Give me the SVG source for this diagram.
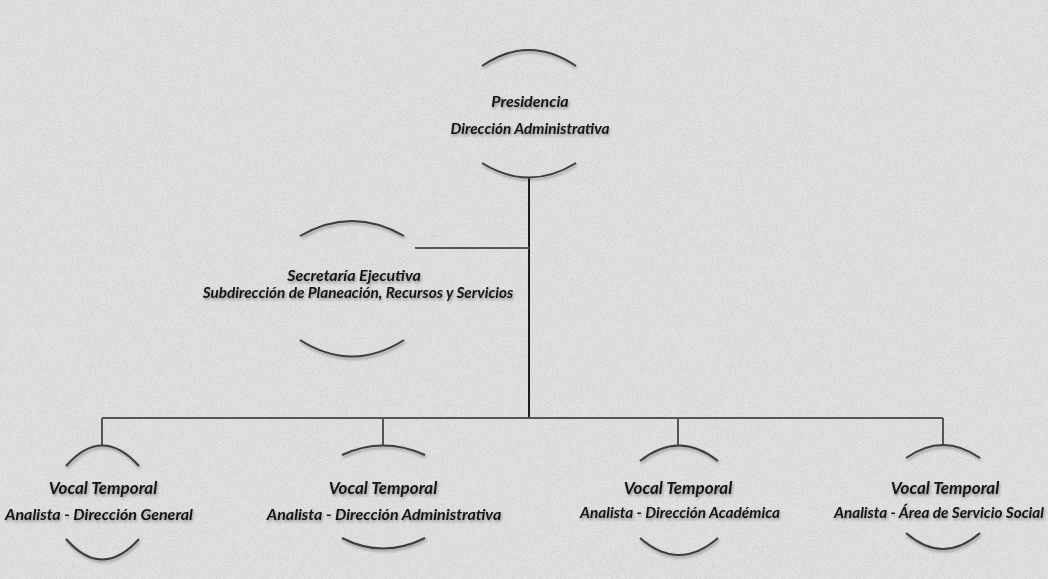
<svg xmlns="http://www.w3.org/2000/svg" width="1048" height="579" viewBox="0 0 1048 579">
<defs>
<filter id="noise" x="0" y="0" width="100%" height="100%">
<feTurbulence type="fractalNoise" baseFrequency="1.2" numOctaves="2" seed="3" result="n"/>
<feColorMatrix in="n" type="matrix" values="0 0 0 0 0.55  0 0 0 0 0.55  0 0 0 0 0.55  1.2 0 0 0 -0.45"/>
</filter>
<filter id="sh" x="-10%" y="-50%" width="120%" height="200%">
<feGaussianBlur in="SourceAlpha" stdDeviation="1.6" result="b"/>
<feOffset in="b" dx="1" dy="2" result="o"/>
<feComponentTransfer in="o" result="o2"><feFuncA type="linear" slope="0.35"/></feComponentTransfer>
<feMerge><feMergeNode in="o2"/><feMergeNode in="SourceGraphic"/></feMerge>
</filter>
</defs>
<style>
.arc{fill:none;stroke:#3c3c3c;stroke-width:2}
.con{fill:none;stroke:#555555;stroke-width:2}
.main{fill:none;stroke:#1e1e1e;stroke-width:2}
text{font-family:"Lato","Open Sans",sans-serif;font-style:italic;font-weight:700;font-size:16px;fill:#141414;text-anchor:middle}
.s{font-size:15.3px}
.v{font-size:17px}
.e{text-anchor:end}
</style>
<rect width="1048" height="579" fill="#e2e2e2"/>
<rect width="1048" height="579" filter="url(#noise)"/>
<g id="connectors">
<path class="main" d="M529 177 V418"/>
<path class="con" d="M415 248 H529"/>
<path class="con" d="M102 418 H943"/>
<path class="con" d="M102 418 V445 M383 418 V445 M678 418 V445 M943 418 V445"/>
</g>
<g id="presidencia" filter="url(#sh)">
<path class="arc" d="M482 66 Q529 34 576 66"/>
<path class="arc" d="M482 163 Q529 192 576 163"/>
<text x="530" y="107">Presidencia</text>
<text class="s" x="530" y="134">Dirección Administrativa</text>
</g>
<g id="secretaria" filter="url(#sh)">
<path class="arc" d="M300 236 Q352 206 404 236"/>
<path class="arc" d="M300 340 Q352 373 404 340"/>
<text x="354" y="281">Secretaría Ejecutiva</text>
<text class="s" x="358" y="298">Subdirección de Planeación, Recursos y Servicios</text>
</g>
<g id="vocal1" filter="url(#sh)">
<path class="arc" d="M66 466 Q102 425 139 466"/>
<path class="arc" d="M66 539 Q102 580 139 539"/>
<text class="v" x="103" y="494">Vocal Temporal</text>
<text x="99" y="520">Analista - Dirección General</text>
</g>
<g id="vocal2" filter="url(#sh)">
<path class="arc" d="M342 455 Q383 436 425 455"/>
<path class="arc" d="M342 538 Q383 559 425 538"/>
<text class="v" x="383" y="494">Vocal Temporal</text>
<text x="384" y="520">Analista -  Dirección Administrativa</text>
</g>
<g id="vocal3" filter="url(#sh)">
<path class="arc" d="M640 461 Q679 430 718 461"/>
<path class="arc" d="M640 538 Q679 572 718 538"/>
<text class="v" x="678" y="494">Vocal Temporal</text>
<text class="s" x="680" y="518">Analista - Dirección Académica</text>
</g>
<g id="vocal4" filter="url(#sh)">
<path class="arc" d="M906 458 Q943 432 980 458"/>
<path class="arc" d="M906 533 Q943 565 980 533"/>
<text class="v" x="945" y="494">Vocal Temporal</text>
<text class="s e" x="1044" y="518">Analista - Área de Servicio Social</text>
</g>
</svg>
